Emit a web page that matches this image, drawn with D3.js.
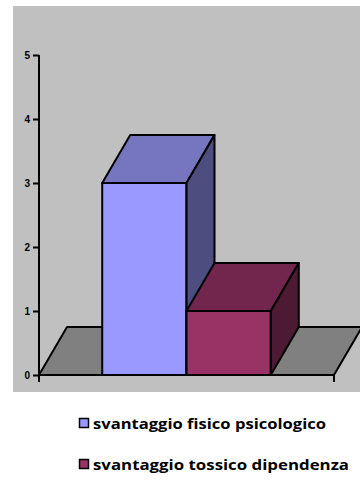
<!DOCTYPE html>
<html><head><meta charset="utf-8">
<script src="https://cdn.jsdelivr.net/npm/d3@7"></script>
<style>html,body{margin:0;padding:0;background:#fff;}svg{display:block;}</style>
</head><body>
<script>
const categories = ["1"];
const seriesNames = ["svantaggio fisico psicologico", "svantaggio tossico dipendenza"];
const seriesValues = [3, 1];
const yTicks = [0, 1, 2, 3, 4, 5];
const frontColors = ["#9999FF", "#993366"];
const topColors = ["#7575C0", "#73264D"];
const sideColors = ["#4D4D80", "#4D1A33"];

const W = 360, H = 480;
const svg = d3.select("body").append("svg").attr("width", W).attr("height", H);
const font = "'Open Sans', 'Liberation Sans', sans-serif";

// panel
svg.append("rect").attr("x", 13).attr("y", 6).attr("width", 347).attr("height", 386).attr("fill", "#C0C0C0");

const x0 = 39, x1 = 334, yBase = 375, yTop = 55;
const dx = 28, dy = -48;
const y = d3.scaleLinear().domain([0, 5]).range([yBase, yTop]);
const xCat = d3.scaleBand().domain(categories).range([x0, x1]).paddingInner(0).paddingOuter(0);
const xSer = d3.scaleBand().domain(d3.range(seriesValues.length)).range([0, xCat.bandwidth()]).paddingOuter(0.75).paddingInner(0);

// floor
const poly = pts => pts.map(p => p.join(",")).join(" ");
svg.append("polygon")
  .attr("points", poly([[x0, yBase], [x0 + dx, yBase + dy], [x1 + dx, yBase + dy], [x1, yBase]]))
  .attr("fill", "#808080").attr("stroke", "#000").attr("stroke-width", 2).attr("stroke-linejoin", "round");

// bars
categories.forEach(cat => {
  seriesValues.forEach((v, i) => {
    const bx0 = xCat(cat) + xSer(i), bx1 = bx0 + xSer.bandwidth();
    const by = y(v);
    const g = svg.append("g").attr("stroke", "#000").attr("stroke-width", 2).attr("stroke-linejoin", "round");
    g.append("polygon").attr("points", poly([[bx0, by], [bx1, by], [bx1, yBase], [bx0, yBase]])).attr("fill", frontColors[i]);
    g.append("polygon").attr("points", poly([[bx0, by], [bx0 + dx, by + dy], [bx1 + dx, by + dy], [bx1, by]])).attr("fill", topColors[i]);
    g.append("polygon").attr("points", poly([[bx1, by], [bx1 + dx, by + dy], [bx1 + dx, yBase + dy], [bx1, yBase]])).attr("fill", sideColors[i]);
  });
});

// axes
const yAxis = d3.axisLeft(y).tickValues(yTicks).tickSize(6).tickPadding(3).tickFormat(d3.format("d"));
const ya = svg.append("g").attr("transform", `translate(${x0},0)`).call(yAxis);
ya.select(".domain").remove();
ya.selectAll("line").attr("stroke", "#000").attr("stroke-width", 2);
ya.selectAll("text").attr("font-family", "'Liberation Sans', Arial, sans-serif").attr("font-weight", "bold").attr("font-size", 10).attr("fill", "#000");
svg.append("line").attr("x1", x0).attr("x2", x0).attr("y1", yTop).attr("y2", yBase + 7).attr("stroke", "#000").attr("stroke-width", 2);

const xAxis = d3.axisBottom(xCat).tickSize(0).tickFormat("");
const xa = svg.append("g").attr("transform", `translate(0,${yBase})`).call(xAxis);
xa.select(".domain").attr("stroke", "#000").attr("stroke-width", 2).attr("d", `M${x0},0H${x1}`);
[x1].forEach(xx => svg.append("line").attr("x1", xx).attr("x2", xx).attr("y1", yBase).attr("y2", yBase + 7).attr("stroke", "#000").attr("stroke-width", 2));

// legend
const legendWidths = [233, 256];
const leg = svg.append("g");
seriesNames.forEach((name, i) => {
  const ly = 418 + i * 41;
  leg.append("rect").attr("x", 79.5).attr("y", ly + 0.5).attr("width", 9).attr("height", 9)
    .attr("fill", frontColors[i]).attr("stroke", "#000").attr("stroke-width", 1.5);
  leg.append("text").attr("x", 93).attr("y", ly + 10.5).text(name)
    .attr("textLength", legendWidths[i]).attr("lengthAdjust", "spacingAndGlyphs")
    .attr("font-family", font).attr("font-weight", "bold").attr("font-size", 15).attr("fill", "#000");
});
</script>
</body></html>
